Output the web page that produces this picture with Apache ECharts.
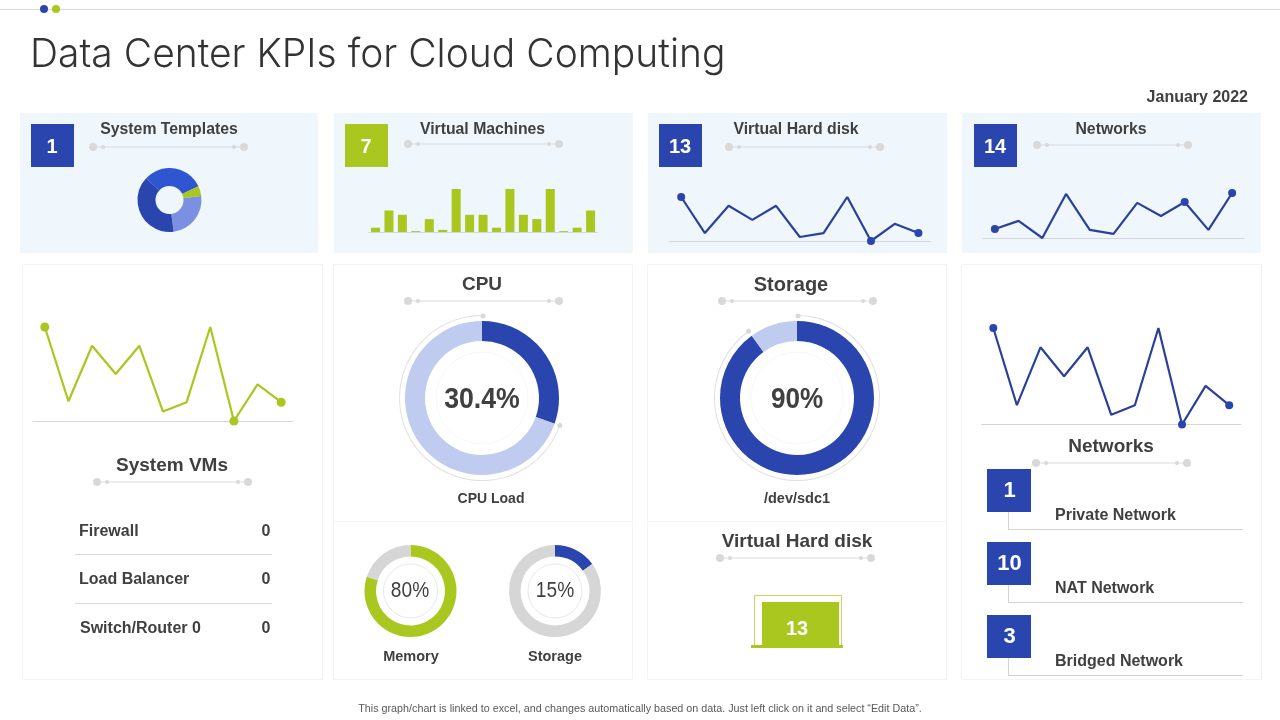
<!DOCTYPE html>
<html lang="en">
<head>
    <meta charset="UTF-8">
    <title>Data Center KPIs for Cloud Computing</title>
    <style>
        html, body { margin: 0; padding: 0; background: #fff; }
        #main { width: 1280px; height: 720px; }
    </style>
</head>
<body>
<div id="main"></div>
<script src="https://cdn.jsdelivr.net/npm/echarts@6/dist/echarts.min.js"></script>
<script>
    // chart values
    var chartTitle = 'Data Center KPIs for Cloud Computing';
    var dateLabel = 'January 2022';
    var footNote = 'This graph/chart is linked to excel, and changes automatically based on data. Just left click on it and select \u201CEdit Data\u201D.';

    var tileTitles = ['System Templates', 'Virtual Machines', 'Virtual Hard disk', 'Networks'];
    var tileCounts = [1, 7, 13, 14];

    var templateShares = [31, 5, 25, 39];

    var machineBars = [1, 5, 4, 0.2, 3, 0.5, 10, 4, 4, 1, 10, 4, 3, 10, 0.2, 1, 5];

    var lineCategories = ['a', 'b', 'c', 'd', 'e', 'f', 'g', 'h', 'i', 'j', 'k'];
    var hardDiskLine = [10, 1.8, 8, 4.8, 8, 0.9, 1.8, 10, 0, 3.9, 1.8];
    var networkTopLine = [2, 3.8, 0, 9.8, 1.8, 0.9, 7.8, 4.9, 8, 1.8, 10];
    var systemVmLine = [10, 2.1, 8, 5, 8, 1, 2, 10, 0, 3.9, 2];
    var networkSideLine = [10, 2, 8, 5, 8, 1, 2, 10, 0, 4, 2];
    var markedPoints = [0, 8, 10];

    var cpuLoad = 30.4;
    var sdcUsage = 90;
    var memoryUsage = 80;
    var storageUsage = 15;
    var hardDiskCount = 13;

    var vmNames = ['Firewall', 'Load Balancer', 'Switch/Router 0'];
    var vmCounts = [0, 0, 0];

    var networkNames = ['Private Network', 'NAT Network', 'Bridged Network'];
    var networkCounts = [1, 10, 3];

    // colours
    var BLUE = '#2a45ae';
    var LINE_BLUE = '#2b4199';
    var GREEN = '#a9c71e';
    var INK = '#404040';
    var FONT = '"Liberation Sans", Arial, sans-serif';

    var graphics = [];
    var grids = [], xAxes = [], yAxes = [], series = [];

    function addText(text, x, y, size, opts) {
        opts = opts || {};
        var el = {
            type: 'text', x: x, y: y + 1, z: 20, silent: true,
            style: {
                text: String(text),
                fill: opts.color || INK,
                font: (opts.weight || 'bold') + ' ' + size + 'px ' + (opts.family || FONT),
                textAlign: opts.align || 'center',
                textVerticalAlign: 'middle'
            }
        };
        // the reference type is a bit narrower or wider than what is installed
        if (opts.scaleX) {
            el.scaleX = opts.scaleX;
        }
        graphics.push(el);
    }

    function addRect(x, y, w, h, fill, stroke, z) {
        graphics.push({
            type: 'rect', z: z === undefined ? 0 : z, silent: true,
            shape: { x: x, y: y, width: w, height: h },
            style: { fill: fill, stroke: stroke || null, lineWidth: stroke ? 1 : 0 }
        });
    }

    function addLine(x1, y1, x2, y2, color, width, z) {
        graphics.push({
            type: 'line', z: z === undefined ? 1 : z, silent: true,
            shape: { x1: x1, y1: y1, x2: x2, y2: y2 },
            style: { stroke: color, lineWidth: width || 1 }
        });
    }

    function addDot(x, y, r, color, z) {
        graphics.push({
            type: 'circle', z: z === undefined ? 1 : z, silent: true,
            shape: { cx: x, cy: y, r: r },
            style: { fill: color }
        });
    }

    // the little rule with two dots at each end, under most headings
    function addRule(x1, x2, y) {
        addLine(x1, y, x2, y, '#d9dbe0', 1);
        addDot(x1, y, 4, '#d9d9d9');
        addDot(x1 + 10, y, 2, '#d9d9d9');
        addDot(x2 - 10, y, 2, '#d9d9d9');
        addDot(x2, y, 4, '#d9d9d9');
    }

    function addGrid(left, top, width, height, categories) {
        grids.push({ left: left, top: top, width: width, height: height });
        xAxes.push({
            type: 'category', gridIndex: grids.length - 1, data: categories, boundaryGap: true,
            axisLine: { show: true, lineStyle: { color: '#d3d6dc', width: 1 } },
            axisTick: { show: false }, axisLabel: { show: false }, splitLine: { show: false }
        });
        yAxes.push({
            type: 'value', gridIndex: grids.length - 1, min: 0, max: 10, show: false,
            splitLine: { show: false }
        });
        return grids.length - 1;
    }

    function addLineChart(values, color, dotColor, width, dotSize, left, top, w, h) {
        var idx = addGrid(left, top, w, h, lineCategories);
        series.push({
            type: 'line', xAxisIndex: idx, yAxisIndex: idx, data: values,
            symbol: 'circle', showAllSymbol: true, clip: false, silent: true,
            symbolSize: function (v, p) { return markedPoints.indexOf(p.dataIndex) >= 0 ? dotSize : 0; },
            itemStyle: { color: dotColor },
            lineStyle: { color: color, width: width }
        });
    }

    function addRing(data, colors, cx, cy, inner, outer, z) {
        series.push({
            type: 'pie', center: [cx, cy], radius: [inner, outer], z: z || 2,
            startAngle: 90, clockwise: true, silent: true, animation: false,
            label: { show: false }, labelLine: { show: false },
            data: data.map(function (v, i) {
                return { value: v, itemStyle: { color: colors[i] } };
            })
        });
    }

    // big ring with a thin outer arc that follows one of the two parts
    function addBigGauge(value, cx, cy, arcOnRest) {
        addRing([value, 100 - value], [BLUE, '#bfcbef'], cx, cy, 57, 77);
        var arcColors = arcOnRest ? ['transparent', '#e0e0e0'] : ['#e0e0e0', 'transparent'];
        addRing([value, 100 - value], arcColors, cx, cy, 82, 83);
        graphics.push({
            type: 'circle', z: 1, silent: true, shape: { cx: cx, cy: cy, r: 46 },
            style: { fill: null, stroke: '#f7f7f7', lineWidth: 1 }
        });
        var a = value / 100 * 2 * Math.PI;
        addDot(cx + 1, cy - 82, 2.5, '#d9d9d9', 5);
        addDot(cx + 82.5 * Math.sin(a), cy - 82.5 * Math.cos(a), 2.5, '#d9d9d9', 5);
    }

    function addSmallGauge(value, color, cx, cy) {
        addRing([value, 100 - value], [color, '#d6d6d6'], cx, cy, 34.5, 46);
        graphics.push({
            type: 'circle', z: 1, silent: true, shape: { cx: cx, cy: cy, r: 27 },
            style: { fill: null, stroke: '#e6e8f3', lineWidth: 1 }
        });
    }

    // page furniture
    addLine(0, 9.5, 1280, 9.5, '#d9d9d9', 1);
    addDot(44, 9, 4, BLUE);
    addDot(56, 9, 4, GREEN);
    addText(chartTitle, 30, 54, 40, { align: 'left', weight: '300', family: 'Inter, sans-serif', color: '#333333', scaleX: 0.975 });
    addText(dateLabel, 1248, 97, 16, { align: 'right' });
    addText(footNote, 640, 708, 10.75, { weight: 'normal', color: '#595959' });

    // top tiles
    var tileLeft = [20, 334, 648, 962];
    var tileWidth = [298, 299, 299, 299];
    var squareLeft = [31, 345, 659, 974];
    var tileCentre = [169, 482.5, 796, 1111];
    var ruleLeft = [93, 408, 729, 1037];
    var ruleY = [147, 144, 147, 145];
    tileTitles.forEach(function (t, i) {
        addRect(tileLeft[i], 113, tileWidth[i], 140, '#eff6fc');
        addRect(squareLeft[i], 124, 43, 43, i === 1 ? GREEN : BLUE, null, 1);
        addText(tileCounts[i], squareLeft[i] + 21, 146, 20, { color: '#ffffff' });
        addText(t, tileCentre[i], 128.5, 15.8);
        addRule(ruleLeft[i], ruleLeft[i] + 151, ruleY[i]);
    });

    // lower cards
    addRect(22.5, 264.5, 300, 415, '#ffffff', '#f4f4f4');
    addRect(333.5, 264.5, 299, 257, '#ffffff', '#f4f4f4');
    addRect(333.5, 521.5, 299, 158, '#ffffff', '#f4f4f4');
    addRect(647.5, 264.5, 299, 257, '#ffffff', '#f4f4f4');
    addRect(647.5, 521.5, 299, 158, '#ffffff', '#f4f4f4');
    addRect(961.5, 264.5, 300, 415, '#ffffff', '#f4f4f4');

    // System Templates donut
    series.push({
        type: 'pie', center: [169.5, 200], radius: [14, 32], startAngle: 137, clockwise: true,
        silent: true, animation: false, label: { show: false }, labelLine: { show: false },
        data: templateShares.map(function (v, i) {
            return { value: v, itemStyle: { color: ['#2f55d0', GREEN, '#7b90e0', BLUE][i] } };
        })
    });

    // Virtual Machines bars
    var barGrid = addGrid(368.8, 189, 228.5, 43, machineBars.map(function (v, i) { return String(i + 1); }));
    series.push({
        type: 'bar', xAxisIndex: barGrid, yAxisIndex: barGrid, data: machineBars,
        barWidth: 9, silent: true, itemStyle: { color: GREEN }
    });

    // line charts
    addLineChart(hardDiskLine, LINE_BLUE, BLUE, 2.2, 8, 669.3, 197, 261, 44);
    addLineChart(networkTopLine, LINE_BLUE, BLUE, 2.2, 8, 983, 193, 261, 45);
    addLineChart(systemVmLine, GREEN, GREEN, 2.2, 9, 33, 327, 260, 94);
    addLineChart(networkSideLine, LINE_BLUE, BLUE, 2.2, 8, 981.5, 328, 259.5, 96.5);

    // CPU and Storage gauges
    addText('CPU', 482, 284, 19);
    addRule(408, 559, 301);
    addBigGauge(cpuLoad, 482, 398, true);
    addText(cpuLoad + '%', 482, 399, 30, { scaleX: 0.89 });
    addText('CPU Load', 491, 498, 14);

    addText('Storage', 791, 284, 20);
    addRule(722, 873, 301);
    addBigGauge(sdcUsage, 797, 398, false);
    addText(sdcUsage + '%', 797, 399, 30, { scaleX: 0.87 });
    addText('/dev/sdc1', 797, 498, 14.5);

    // small gauges
    addSmallGauge(memoryUsage, GREEN, 410.5, 591);
    addText(memoryUsage + '%', 410, 590, 22, { weight: 'normal', scaleX: 0.87 });
    addText('Memory', 411, 656, 14.5);
    addSmallGauge(storageUsage, BLUE, 555, 591);
    addText(storageUsage + '%', 555, 590, 22, { weight: 'normal', scaleX: 0.87 });
    addText('Storage', 555, 656, 14.5);

    // Virtual Hard disk tile
    addText('Virtual Hard disk', 797, 541, 19);
    addRule(720, 871, 558);
    addLine(754.5, 595.5, 841.5, 595.5, '#c4d85f', 1);
    addLine(754.5, 595, 754.5, 645, '#c4d85f', 1);
    addLine(841.5, 595, 841.5, 645, '#c4d85f', 1);
    addRect(762, 602, 77, 44, GREEN, null, 2);
    addRect(751, 645, 92, 3, GREEN, null, 2);
    addText(hardDiskCount, 797, 628, 20, { color: '#ffffff' });

    // System VMs table
    addText('System VMs', 172, 465, 19);
    addRule(97, 248, 482);
    var vmRowY = [531, 579, 628];
    var vmNameX = [79, 79, 80];
    vmNames.forEach(function (n, i) {
        addText(n, vmNameX[i], vmRowY[i], 16, { align: 'left' });
        addText(vmCounts[i], 266, vmRowY[i], 16);
    });
    addLine(75, 554.5, 272, 554.5, '#d9d9d9', 1);
    addLine(75, 603.5, 272, 603.5, '#d9d9d9', 1);

    // Networks list
    addText('Networks', 1111, 446, 19);
    addRule(1036, 1187, 463);
    var netSquareY = [469, 542, 615];
    networkNames.forEach(function (n, i) {
        var y = netSquareY[i];
        addRect(987, y, 44, 43, BLUE, null, 2);
        addText(networkCounts[i], 1009.5, y + 21, 22, { color: '#ffffff' });
        addLine(1008.5, y + 43, 1008.5, y + 60.5, '#d3d3d3', 1);
        addLine(1008, y + 60.5, 1243, y + 60.5, '#d3d3d3', 1);
        addText(n, 1055, y + 46, 16, { align: 'left' });
    });

    var myChart = echarts.init(document.getElementById('main'), null, { renderer: 'canvas' });
    myChart.setOption({
        animation: false,
        backgroundColor: '#ffffff',
        grid: grids,
        xAxis: xAxes,
        yAxis: yAxes,
        series: series,
        graphic: { elements: graphics }
    });
</script>
</body>
</html>
